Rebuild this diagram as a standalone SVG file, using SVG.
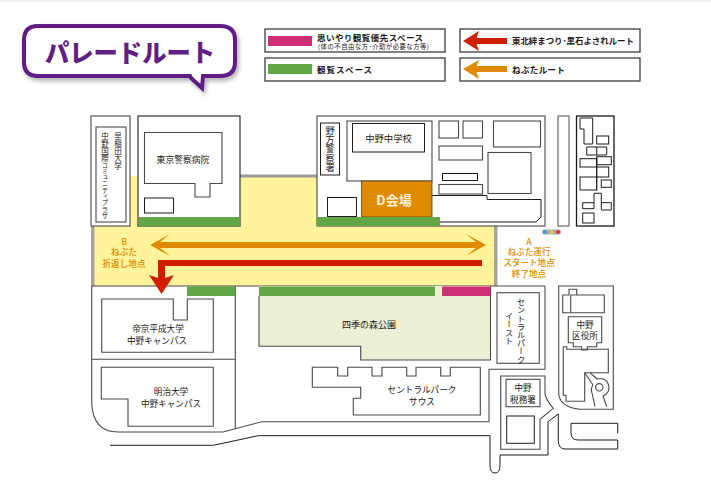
<svg xmlns="http://www.w3.org/2000/svg" width="711" height="491" viewBox="0 0 711 491">
<style>
text{font-family:"Noto Sans CJK JP","Noto Sans",sans-serif;fill:#231815;font-size:9px;text-anchor:middle}
.o{fill:none;stroke:#4a4a4a;stroke-width:1.1}
.w{fill:#fff;stroke:#4a4a4a;stroke-width:1.1}
.k{fill:none;stroke:#1d1d1d;stroke-width:1}
.lg{fill:#fff;stroke:#4c4c4c;stroke-width:1.4}
.b{font-weight:700;font-size:8.5px}
.n{fill:#e08a00;font-size:8.600px;font-weight:500}
.v{writing-mode:vertical-rl;text-anchor:start}
.g{fill:#62a646}
.p{fill:#cf2e74}
.or{fill:#e08a00}
.rd{fill:#cf1f00}
</style>
<defs><filter id="sh" x="-10%" y="-20%" width="120%" height="150%"><feDropShadow dx="2" dy="3" stdDeviation="2" flood-color="#000" flood-opacity=".3"/></filter></defs>
<rect width="711" height="2" fill="#eef0f6"/>

<g id="title">
<path d="M38 26H220Q235 26 235 40V62Q235 76 220 76H203L202 88L191 78L190 76H38Q24 76 24 62V40Q24 26 38 26Z" fill="#fff" stroke="#5f1f85" stroke-width="4" filter="url(#sh)"/>
<text x="130" y="62" style="font-size:25px;font-weight:900;fill:#5f1f85" textLength="170" lengthAdjust="spacingAndGlyphs">パレードルート</text>
</g>

<g id="legend">
<rect class="lg" x="265" y="29" width="180" height="23"/>
<rect class="p" x="268" y="36" width="44" height="10"/>
<text class="b" x="317" y="41" style="text-anchor:start" textLength="106">思いやり観覧優先スペース</text>
<text x="318" y="49" style="text-anchor:start;font-size:6.4px" textLength="111">(体の不自由な方･介助が必要な方等)</text>
<rect class="lg" x="265" y="58" width="180" height="23"/>
<rect class="g" x="268" y="64" width="44" height="10"/>
<text class="b" x="317" y="73" style="text-anchor:start" textLength="55">観覧スペース</text>
<rect class="lg" x="460" y="29" width="180" height="23"/>
<path class="rd" d="M463 41L479 31L476.500 38H507V44H476.500L479 51Z"/>
<text class="b" x="512" y="44" style="text-anchor:start" textLength="122">東北絆まつり･黒石よされルート</text>
<rect class="lg" x="460" y="58" width="180" height="23"/>
<path class="or" d="M463 69L479 60L476.500 66H507V72H476.500L479 79Z"/>
<text class="b" x="512" y="73" style="text-anchor:start" textLength="53">ねぶたルート</text>
</g>

<g id="road-area">
<rect x="93" y="176" width="403" height="110" fill="#fff49b"/>
<path d="M240 176H318" stroke="#9b9b9b" stroke-width="3"/>
<rect x="91" y="226" width="3.500" height="60" fill="#a5a5a0"/>
<rect x="494" y="226" width="3.500" height="60" fill="#a5a5a0"/>
<path class="o" d="M92 286H545"/>
</g>

<g id="park">
<path d="M259 286H490.500V360H360.700V346.300H259Z" fill="#ecf1d6"/>
<path class="o" d="M259 296V346.300H360.700V360H490.500V286"/>
<text x="369" y="328">四季の森公園</text>
</g>

<g id="waseda">
<rect class="w" x="91" y="116" width="39" height="110"/>
<rect class="w" x="96" y="127" width="30" height="95"/>
<text class="v" x="118" y="132" style="font-size:7.500px">早稲田大学</text>
<text class="v" x="105" y="132" style="font-size:7.500px">中野国際</text>
<text class="v" x="105" y="162" style="font-size:6.300px">コミュニティプラザ</text>
</g>

<g id="hospital">
<rect x="138" y="116" width="102" height="110" fill="#fff" stroke="#333" stroke-width="1.200"/>
<path class="o" d="M144.500 132.500H222V183.500H210V197H195V183.500H144.500Z"/>
<rect class="k" x="144.500" y="198" width="29" height="15"/>
<rect class="g" x="139" y="217" width="101" height="9"/>
<text x="183" y="163" style="font-size:8.800px">東京警察病院</text>
</g>

<g id="school-block">
<rect class="w" x="317" y="116" width="228" height="110"/>
<rect class="k" x="320.500" y="123" width="19" height="52"/>
<text class="v" x="330" y="126" style="font-size:9.200px">野方警察署</text>
<rect class="o" x="347" y="121" width="85" height="60"/>
<rect class="k" x="352.500" y="123.500" width="72" height="28.500"/>
<text x="388.500" y="142" style="font-size:9.300px">中野中学校</text>
<rect x="361.500" y="181" width="70.500" height="36" fill="#e08a00" stroke="#5a4010" stroke-width=".8"/>
<text x="394" y="205" style="font-size:13px;font-weight:700;fill:#fff4d8">D会場</text>
<rect class="k" x="327.500" y="197.500" width="29" height="19"/>
<rect class="o" x="439" y="121" width="19.500" height="17"/>
<rect class="o" x="463" y="121" width="19.500" height="17"/>
<rect class="o" x="439" y="146" width="43.500" height="14"/>
<rect class="k" x="442.500" y="173.500" width="35" height="7"/>
<rect class="o" x="439" y="184.500" width="43.500" height="9.500"/>
<rect class="o" x="493.500" y="121" width="47" height="26"/>
<rect class="o" x="488" y="152.500" width="43" height="41"/>
<path class="k" d="M432 195.500H487V199.500H541V217L536 222H432"/>
<rect class="g" x="317" y="217" width="123" height="9"/>
</g>

<g id="strip"><rect x="558" y="116" width="11" height="110" fill="#fff" stroke="#777" stroke-width="1.300"/></g>

<g id="dense-block">
<rect x="576.500" y="116" width="37.500" height="110" fill="#fff" stroke="#1a1a1a" stroke-width="1.300"/>
<path class="k" d="M580 118H592.700V144H584V129H580Z"/>
<rect class="k" x="596.700" y="136" width="12" height="8"/>
<path class="k" d="M586.700 147H606.700V155H586.700ZM596.700 147V155"/>
<rect class="k" x="580" y="158.700" width="16.700" height="8.300"/>
<rect class="k" x="596.700" y="156.700" width="14.600" height="8"/>
<rect class="k" x="596.700" y="167" width="12" height="10"/>
<path class="k" d="M596.700 156.700V190"/>
<rect class="k" x="580" y="177" width="16.700" height="13"/>
<rect class="k" x="601.300" y="180" width="10" height="7.300"/>
<path class="k" d="M582.700 202.700H594V193.300H601.300V210H611.300V202.700H601.300M582.700 202.700V208.700H594V202.700"/>
<rect class="k" x="582.700" y="213" width="11.300" height="10"/>
</g>

<g id="signal">
<rect x="542" y="229.500" width="19" height="5" rx="2.500" fill="#aab"/>
<circle cx="545" cy="232" r="2" fill="#3f9fc0"/><circle cx="551.500" cy="232" r="2" fill="#e5c33a"/><circle cx="558" cy="232" r="2" fill="#d8423a"/>
</g>

<g id="connectors">
<path class="or" d="M150 245L170 234L160 242H476L466 234L486 245L466 256L476 248H160L170 256Z"/>
<path class="rd" d="M482 260V266H165V278L174 275L161.500 294L149 275L158 278V260Z"/>
</g>

<g id="label-b">
<text class="n" x="124" y="245">B</text>
<text class="n" x="124" y="255">ねぶた</text>
<text class="n" x="124" y="266.500">折返し地点</text>
</g>
<g id="label-a">
<text class="n" x="529" y="245">A</text>
<text class="n" x="529" y="255">ねぶた運行</text>
<text class="n" x="529" y="266">スタート地点</text>
<text class="n" x="529" y="276.500">終了地点</text>
</g>

<g id="teikyo">
<path class="o" d="M91.700 286V403Q93 432 118 432H223L261.700 421.700H489V369.300H545V286M235.300 286V429M92 359.300H235.300"/>
<rect class="g" x="187" y="286.500" width="48.300" height="9.500"/>
<rect class="g" x="259" y="286.500" width="176" height="9.500"/>
<rect class="p" x="442" y="286.500" width="48.500" height="9.500"/>
<path class="o" d="M101.700 299H173.300V320H187.300V299H213.300V352.300H101.700Z"/>
<text x="158" y="331.500" style="font-size:8.600px">帝京平成大学</text>
<text x="157" y="343.500" style="font-size:8.600px">中野キャンパス</text>
</g>

<g id="meiji">
<path class="o" d="M101.300 367.300H213.300V426.300H128V399H101.300Z"/>
<text x="171" y="394.500" style="font-size:8.600px">明治大学</text>
<text x="171" y="406.500" style="font-size:8.600px">中野キャンパス</text>
</g>

<g id="cp-south">
<path class="o" d="M312.300 367.300H337.700V376H347.700V367.300H372V376H382V367.300H406.700V376H416V367.300H440.700V376H450.300V367.300H480.300V415H353.300V398.300H360.700V387.300H312.300Z"/>
<text x="422" y="393" style="font-size:8.600px">セントラルパーク</text>
<text x="422" y="405" style="font-size:8.600px">サウス</text>
</g>

<g id="cp-east">
<rect class="o" x="497" y="292.700" width="42.300" height="70.600"/>
<text class="v" x="521" y="298" style="font-size:8.200px">セントラルパーク</text>
<text class="v" x="509" y="312" style="font-size:8.200px">イースト</text>
</g>

<g id="road-south">
<path class="k" d="M110 445.300H213.300L258.300 435.700H490V465Q490 473 495 473Q500 473 500 465V455H548V421.700L558.300 414V441.700Q559 449 565 449H617.700V440H578Q571 440 571 433V423.300H617.700V433.300"/>
</g>

<g id="tax">
<path class="o" d="M500.700 376H545V393.300Q546 400 553.300 408.300L540 419.300V449.300H500.700Z"/>
<rect class="o" x="506" y="379.300" width="34" height="27.400"/>
<rect class="k" x="506.700" y="416" width="27.600" height="27.300"/>
<text x="523" y="391" style="font-size:8.600px">中野</text>
<text x="523" y="403" style="font-size:8.600px">税務署</text>
</g>

<g id="ward">
<path class="o" d="M558.700 286H613.300V409.300H580Q559 407 558.700 393Z"/>
<path class="o" d="M570.700 295H604.300V312.700H570.700ZM570.700 312.700H562.700V295H569V289.300H576.700V295"/>
<path class="o" d="M568.300 316.700H601.700V342.700H596.700V346.700H587.300V350H581.700V346.700H573.300V342.700H568.300Z"/>
<path class="o" d="M563.300 346.700H566.700V349.300H608.300V372.700H584.700V401.300H566V395.300H563.300Z"/>
<path class="o" d="M584.700 372.700L593 385M590 372.700L597 379A8.500 8.500 0 0 1 603 396L606.700 406.700M592 393L595 406.700M593 385A8.500 8.500 0 0 0 592 393"/>
<circle class="o" cx="599.300" cy="387.300" r="3.700"/>
<text x="585" y="328" style="font-size:8.600px">中野</text>
<text x="585" y="339" style="font-size:8.600px">区役所</text>
</g>
</svg>
